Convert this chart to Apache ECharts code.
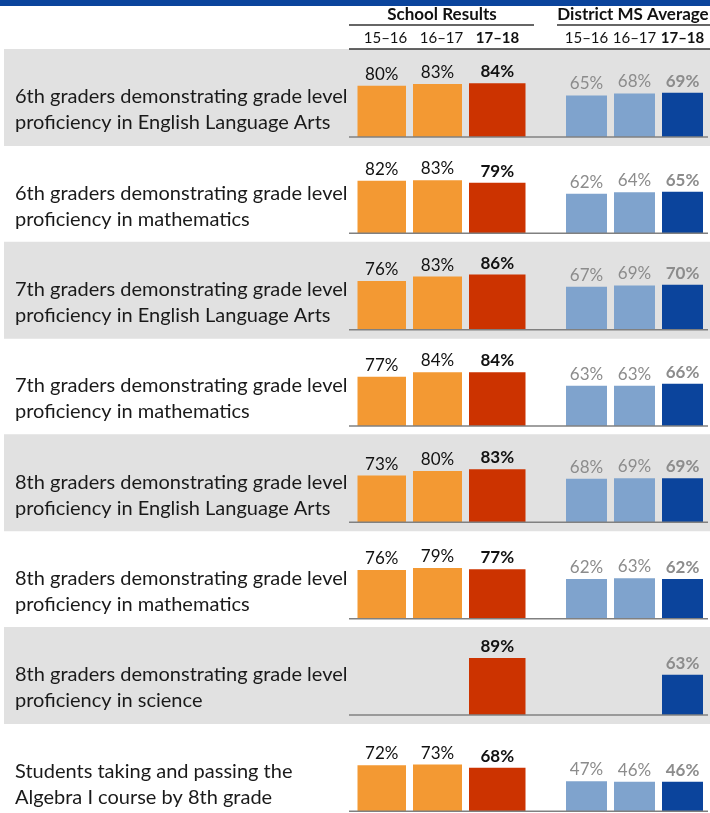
<!DOCTYPE html>
<html>
<head>
<meta charset="utf-8">
<script src="https://cdn.jsdelivr.net/npm/echarts@6/dist/echarts.min.js"></script>
<style>html,body{margin:0;padding:0;background:#fff}#c{width:710px;height:813px}</style>
</head>
<body>
<div id="c"></div>
<script>
const rowLabels = [
  '6th graders demonstrating grade level\nproficiency in English Language Arts',
  '6th graders demonstrating grade level\nproficiency in mathematics',
  '7th graders demonstrating grade level\nproficiency in English Language Arts',
  '7th graders demonstrating grade level\nproficiency in mathematics',
  '8th graders demonstrating grade level\nproficiency in English Language Arts',
  '8th graders demonstrating grade level\nproficiency in mathematics',
  '8th graders demonstrating grade level\nproficiency in science',
  'Students taking and passing the\nAlgebra I course by 8th grade'
];
const years = ['15–16', '16–17', '17–18'];
const school1516 = [80, 82, 76, 77, 73, 76, null, 72];
const school1617 = [83, 83, 83, 84, 80, 79, null, 73];
const school1718 = [84, 79, 86, 84, 83, 77, 89, 68];
const district1516 = [65, 62, 67, 63, 68, 62, null, 47];
const district1617 = [68, 64, 69, 63, 69, 63, null, 46];
const district1718 = [69, 65, 70, 66, 69, 62, 63, 46];

const FONT = 'Lato';
const pitch = 96.33;
const base0 = 137;
const barArea = 64;
const C = {orange:'#F39933', red:'#CC3300', lblue:'#7FA3CD', dblue:'#0B449C', gray:'#8C8C8C', bg:'#E1E1E1'};

const grids = [], xAxes = [], yAxes = [], series = [], graphics = [];

// header graphics
graphics.push({type:'rect', shape:{x:0,y:0,width:710,height:6}, style:{fill:'#0B449C'}});
graphics.push({type:'text', style:{text:'School Results', x:442, y:15, align:'center', verticalAlign:'middle', font:'bold 17px '+FONT, fill:'#111'}});
graphics.push({type:'text', style:{text:'District MS Average', x:633, y:15, align:'center', verticalAlign:'middle', font:'bold 17px '+FONT, fill:'#111'}});
graphics.push({type:'line', shape:{x1:349,y1:25,x2:534,y2:25}, style:{stroke:'#333',lineWidth:1.5}});
graphics.push({type:'line', shape:{x1:557,y1:25,x2:710,y2:25}, style:{stroke:'#333',lineWidth:1.5}});
graphics.push({type:'line', shape:{x1:349,y1:49,x2:710,y2:49}, style:{stroke:'#333',lineWidth:1.5}});

for (let i = 0; i < rowLabels.length; i++) {
  const base = base0 + i * pitch;
  const bgTop = 49 + i * pitch;
  if (i % 2 === 0) {
    graphics.push({type:'rect', z:-10, shape:{x:4,y:bgTop,width:706,height:97}, style:{fill:C.bg}});
  }
  graphics.push({type:'line', z:10, shape:{x1:349,y1:base,x2:708,y2:base}, style:{stroke:'#808080',lineWidth:1.5}});
  graphics.push({type:'text', style:{text:rowLabels[i], x:15, y:base-27, verticalAlign:'middle', font:'20px '+FONT, lineHeight:26, fill:'#1a1a1a'}});

  const top = base - barArea;
  const gS = grids.length;
  grids.push({left:357.5, width:168, top:top, height:barArea});
  const gD = grids.length;
  grids.push({left:562.5, width:144, top:top, height:barArea});
  [gS, gD].forEach(g => {
    xAxes.push({
      type:'category', gridIndex:g, data:years, position:'top',
      axisLine:{show:false}, axisTick:{show:false},
      axisLabel:{show:i===0, margin:27, interval:0,
        formatter:(v, idx) => idx === 2 ? '{b|' + v + '}' : '{n|' + v + '}',
        rich:{n:{fontFamily:FONT,fontSize:15,color:'#111'}, b:{fontFamily:FONT,fontSize:15,fontWeight:'bold',color:'#111'}}}
    });
    yAxes.push({type:'value', gridIndex:g, min:0, max:100, show:false, splitLine:{show:false}});
  });
  const lab = (color, bold) => ({show:true, position:'top', distance:3, formatter:'{c}%', fontFamily:FONT, fontSize:17, fontWeight:bold?'bold':'normal', color:color});
  const v = x => (x === null ? '-' : x);
  series.push({type:'bar', xAxisIndex:gS, yAxisIndex:gS, barWidth:49, barGap:'-100%', data:[v(school1516[i]), v(school1617[i]), '-'], itemStyle:{color:C.orange}, label:lab('#111', false)});
  series.push({type:'bar', xAxisIndex:gS, yAxisIndex:gS, barWidth:57, barGap:'-100%', data:['-', '-', v(school1718[i])], itemStyle:{color:C.red}, label:lab('#111', true)});
  series.push({type:'bar', xAxisIndex:gD, yAxisIndex:gD, barWidth:41, barGap:'-100%', data:[v(district1516[i]), v(district1617[i]), '-'], itemStyle:{color:C.lblue}, label:lab(C.gray, false)});
  series.push({type:'bar', xAxisIndex:gD, yAxisIndex:gD, barWidth:41, barGap:'-100%', data:['-', '-', v(district1718[i])], itemStyle:{color:C.dblue}, label:lab(C.gray, true)});
}

const chart = echarts.init(document.getElementById('c'), null, {renderer:'canvas'});
chart.setOption({
  animation:false,
  backgroundColor:'#fff',
  grid:grids, xAxis:xAxes, yAxis:yAxes, series:series,
  graphic:{elements:graphics}
});
</script>
</body>
</html>
